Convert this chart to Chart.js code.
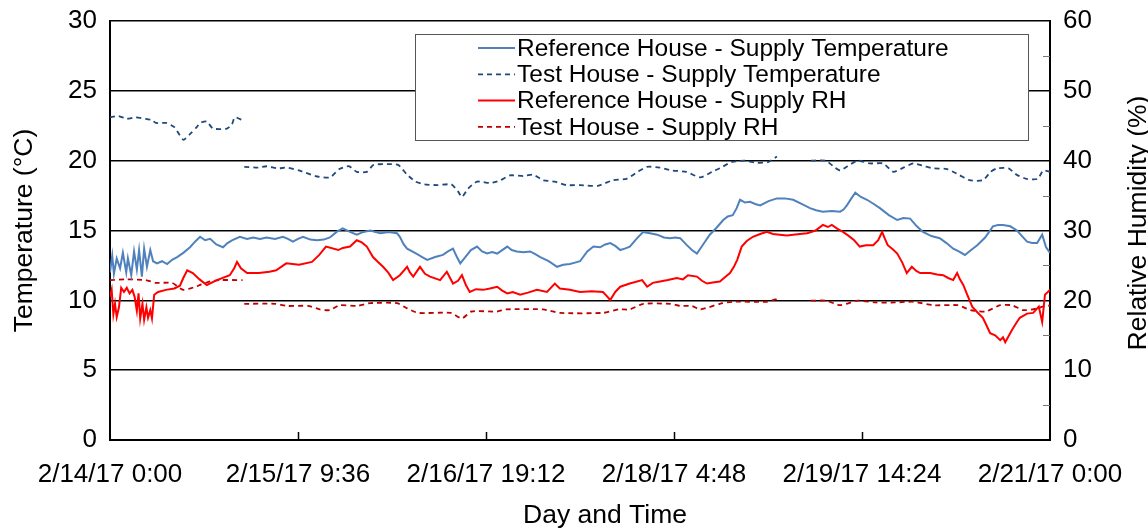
<!DOCTYPE html>
<html>
<head>
<meta charset="utf-8">
<script src="https://cdn.jsdelivr.net/npm/chart.js@4.4.0/dist/chart.umd.min.js"></script>
<style>
  html, body { margin: 0; padding: 0; background: #fff; }
  #wrap { width: 1148px; height: 531px; }
</style>
</head>
<body>
<div id="wrap"><canvas id="chart" width="1148" height="531"></canvas></div>
<script>
// Time is expressed in hours since 2/14/17 0:00.
const timeTickHours = [0, 33.6, 67.2, 100.8, 134.4, 168];
const timeTickLabels = ['2/14/17 0:00', '2/15/17 9:36', '2/16/17 19:12', '2/18/17 4:48', '2/19/17 14:24', '2/21/17 0:00'];
const rhMinorTicks = [5, 15, 25, 35, 45, 55];

const seriesLabels = [
  'Reference House - Supply Temperature',
  'Test House - Supply Temperature',
  'Reference House - Supply RH',
  'Test House - Supply RH'
];

// [hour, °C]
const refTemp = [[0,12.0],[0.4,13.2],[0.7,11.9],[1.2,13.0],[1.8,12.3],[2.3,13.4],[2.9,12.0],[3.2,13.0],[3.8,11.8],[4.3,13.5],[4.8,12.2],[5.2,13.6],[5.7,11.7],[6.1,13.7],[6.6,12.4],[7.2,13.6],[7.7,12.8],[8.4,12.65],[9.3,12.8],[10.2,12.6],[11.1,12.9],[12.0,13.1],[13.1,13.4],[14.3,13.8],[15.2,14.2],[16.1,14.55],[17.0,14.3],[17.9,14.4],[19.0,14.0],[20.2,13.8],[21.0,14.1],[21.8,14.3],[23.2,14.55],[24.5,14.4],[25.6,14.5],[26.8,14.4],[28.0,14.5],[29.5,14.4],[30.9,14.55],[31.8,14.4],[32.7,14.2],[33.6,14.4],[34.5,14.55],[35.8,14.35],[37.0,14.3],[38.2,14.35],[39.3,14.5],[40.5,14.9],[41.6,15.15],[42.9,14.9],[44.1,14.7],[45.3,14.9],[46.5,15.0],[48.3,14.8],[49.8,14.9],[51.3,14.8],[51.8,14.55],[52.5,14.0],[53.1,13.7],[54.0,13.5],[54.9,13.3],[55.8,13.1],[56.7,12.9],[58.1,13.1],[59.5,13.25],[60.4,13.5],[61.3,13.7],[62.0,13.1],[62.6,12.65],[63.5,13.1],[64.5,13.6],[65.6,13.85],[66.5,13.5],[67.4,13.35],[68.3,13.45],[69.2,13.35],[70.1,13.6],[71.0,13.85],[71.8,13.6],[72.7,13.5],[73.9,13.45],[75.1,13.5],[76.0,13.3],[76.9,13.1],[78.4,12.8],[79.9,12.4],[81.0,12.55],[82.2,12.6],[83.1,12.7],[84.0,12.8],[85.3,13.5],[86.4,13.85],[87.6,13.8],[88.5,14.0],[89.4,14.1],[90.3,13.9],[91.2,13.6],[92.0,13.7],[92.9,13.85],[94.1,14.4],[95.3,14.9],[96.5,14.8],[97.8,14.7],[99.0,14.5],[100.1,14.45],[101.0,14.5],[101.9,14.45],[102.5,14.2],[103.1,13.95],[104.0,13.6],[104.9,13.35],[106.0,14.0],[107.2,14.7],[108.4,15.2],[109.6,15.75],[110.4,16.0],[111.3,16.1],[112.0,16.6],[112.6,17.2],[113.5,17.0],[114.4,17.05],[115.3,16.9],[116.2,16.8],[117.7,17.1],[119.2,17.3],[120.6,17.3],[122.1,17.2],[123.6,16.9],[125.1,16.6],[126.2,16.45],[127.4,16.35],[129.0,16.4],[130.5,16.35],[131.1,16.5],[131.7,16.8],[132.5,17.3],[133.2,17.7],[134.2,17.4],[135.3,17.2],[136.5,16.9],[137.6,16.6],[139.2,16.1],[140.7,15.75],[141.8,15.9],[143.0,15.85],[144.2,15.3],[145.3,14.9],[146.8,14.6],[148.3,14.45],[149.5,14.1],[150.7,13.7],[151.7,13.5],[152.8,13.25],[153.9,13.6],[155.0,13.95],[156.4,14.5],[157.8,15.3],[158.7,15.4],[159.6,15.4],[160.9,15.3],[162.1,15.0],[163.0,14.6],[163.9,14.2],[164.8,14.1],[165.7,14.1],[166.6,14.7],[167.3,13.8],[168,13.4]];

// [hour, °C]; null marks a gap in the logger record
const testTemp = [[0,23.1],[1.5,23.2],[3.0,23.0],[4.5,23.1],[6.4,23.0],[7.5,22.9],[8.2,22.7],[10.0,22.7],[11.5,22.4],[13.1,21.5],[14.3,21.9],[15.5,22.4],[16.1,22.7],[17.3,22.8],[18.4,22.3],[20.9,22.3],[21.8,22.6],[22.3,23.1],[23.7,22.9],[23.85,null],[24.0,19.56],[26.5,19.5],[28.0,19.6],[30.0,19.45],[31.6,19.5],[33.8,19.3],[36.7,18.9],[39.3,18.8],[41.0,19.4],[42.7,19.6],[44.1,19.2],[45.9,19.2],[47.1,19.7],[49.5,19.75],[51.5,19.7],[53.1,19.0],[54.6,18.5],[56.2,18.3],[58.5,18.25],[61.0,18.3],[62.2,17.8],[62.9,17.4],[64.0,18.0],[65.6,18.5],[68.0,18.4],[69.8,18.6],[71.5,18.95],[73.9,18.9],[75.6,19.0],[77.4,18.6],[79.5,18.5],[81.6,18.25],[84.0,18.25],[87.2,18.2],[89.9,18.6],[92.3,18.7],[94.3,19.2],[96.0,19.56],[98.3,19.5],[100.5,19.3],[103.0,19.2],[105.5,18.8],[107.6,19.2],[109.2,19.5],[111.1,19.9],[113.5,20.0],[115.6,19.85],[117.6,19.9],[119.2,20.3],[122.0,null],[125.3,20.0],[127.9,20.0],[129.6,19.5],[130.5,19.3],[131.8,19.6],[133.6,20.0],[135.9,19.8],[138.2,19.8],[140.0,19.2],[141.8,19.5],[143.6,19.8],[145.6,19.6],[147.2,19.45],[149.6,19.4],[151.8,18.97],[153.6,18.6],[156.0,18.6],[157.4,19.2],[158.5,19.45],[160.6,19.45],[162.0,19.0],[163.8,18.7],[165.8,18.7],[166.8,19.3],[168,19.2]];

// [hour, %RH]
const refRH = [[0,20.5],[0.3,21.5],[0.6,18.0],[0.9,19.5],[1.2,17.6],[1.6,19.0],[2.0,21.8],[2.5,21.2],[3.0,21.8],[3.5,21.0],[4.0,21.5],[4.4,20.5],[4.8,18.5],[5.1,21.0],[5.4,17.4],[5.8,19.5],[6.1,17.2],[6.5,19.0],[6.8,17.5],[7.2,18.6],[7.5,17.4],[7.9,20.8],[8.6,21.2],[10.0,21.5],[11.5,21.7],[12.5,22.1],[13.1,23.2],[13.8,24.3],[14.8,23.9],[16.0,23.0],[17.3,22.2],[19.1,22.9],[21.4,23.6],[22.2,24.6],[22.7,25.5],[23.4,24.6],[24.5,23.9],[26.6,23.9],[28.5,24.1],[29.7,24.3],[31.5,25.3],[33.8,25.1],[36.1,25.5],[37.4,26.5],[38.6,27.7],[40.8,27.2],[41.6,27.5],[42.9,27.7],[44.1,28.6],[45.0,28.3],[45.9,27.7],[47.0,26.2],[47.9,25.5],[48.8,24.8],[49.7,24.0],[50.6,22.9],[51.8,23.6],[53.1,24.8],[53.6,24.0],[54.2,23.4],[55.4,24.8],[56.3,23.8],[57.2,23.4],[59.0,22.9],[60.2,24.1],[61.3,22.4],[62.2,22.8],[62.9,23.6],[63.6,22.2],[64.3,21.2],[65.4,21.6],[66.7,21.5],[67.9,21.7],[69.2,21.95],[70.1,21.4],[71.0,21.0],[72.0,21.2],[73.3,20.8],[74.7,21.1],[76.3,21.5],[78.1,21.2],[79.5,22.4],[80.4,21.7],[82.2,21.5],[84.0,21.2],[86.1,21.3],[88.1,21.2],[88.8,20.6],[89.4,20.05],[90.3,21.2],[91.2,21.95],[92.9,22.4],[95.1,22.9],[96.0,21.95],[97.0,22.5],[98.3,22.7],[99.7,22.9],[101.3,23.2],[102.4,23.0],[103.3,23.6],[104.9,23.4],[105.8,22.8],[106.7,22.4],[108.0,22.6],[109.0,22.7],[109.9,23.3],[110.8,23.9],[111.5,24.8],[112.1,25.8],[112.9,27.7],[113.8,28.5],[114.9,29.1],[116.2,29.5],[117.4,29.8],[118.5,29.5],[119.7,29.4],[121.0,29.3],[122.1,29.4],[123.3,29.5],[124.6,29.6],[126.1,30.0],[127.4,30.8],[128.3,30.5],[129.0,30.8],[130.1,30.2],[131.0,29.8],[131.9,29.3],[133.0,28.6],[134.0,27.7],[135.1,27.9],[136.4,27.9],[137.3,28.6],[138.0,29.8],[138.5,28.8],[139.0,27.9],[139.9,27.3],[140.7,26.7],[141.6,25.4],[142.4,23.9],[143.3,24.8],[144.1,24.2],[144.8,23.9],[146.6,23.9],[147.8,23.7],[148.9,23.6],[149.8,23.2],[150.7,22.9],[151.4,23.9],[151.9,23.0],[152.5,22.2],[153.2,20.8],[154.1,19.1],[155.0,18.3],[156.0,17.5],[156.6,16.5],[157.3,15.3],[158.2,15.0],[159.1,14.3],[159.6,14.7],[160.0,14.0],[161.2,15.75],[162.0,16.8],[162.6,17.5],[163.9,18.1],[165.0,18.2],[166.0,19.1],[166.6,16.9],[167.1,20.8],[168,21.5]];

// [hour, %RH]; null marks a gap in the logger record
const testRH = [[0,22.9],[3.0,23.0],[6.4,22.9],[8.2,22.5],[11.1,22.5],[13.1,21.5],[15.5,22.0],[16.1,22.2],[17.9,22.7],[19.7,22.9],[23.7,22.9],[23.85,null],[24.0,19.5],[29.5,19.5],[31.6,19.2],[35.4,19.2],[37.5,18.7],[39.3,18.6],[41.0,19.3],[44.1,19.2],[46.5,19.6],[51.3,19.6],[53.1,18.85],[55.1,18.2],[60.9,18.2],[62.9,17.4],[64.6,18.4],[69.2,18.4],[70.7,18.7],[77.4,18.7],[80.4,18.2],[88.1,18.2],[90.9,18.7],[92.9,18.7],[95.3,19.5],[100.1,19.5],[101.9,19.2],[104.0,19.2],[105.5,18.7],[109.0,19.5],[111.3,19.8],[117.4,19.8],[119.2,20.2],[122.0,null],[125.3,19.95],[128.0,19.95],[130.5,19.3],[133.6,19.95],[136.8,19.7],[140.4,19.7],[143.6,19.8],[147.2,19.3],[151.5,19.3],[153.8,18.6],[156.5,18.4],[159.1,19.3],[161.2,19.3],[163.2,18.6],[165.5,18.8],[167.5,19.3],[168,19.2]];

const FONT = '"Liberation Sans", Arial, Helvetica, sans-serif';
const toPoints = rows => rows.map(([h, v]) => ({ x: h, y: v }));

// Fixed-size vertical axes so the plot box sits where the layout wants it
const fixVertical = width => s => {
  s.width = width;
  s.paddingTop = 0;
  s.paddingBottom = 0;
};

// Inner tick marks, boxed legend and the secondary axis titles
const decorations = {
  id: 'decorations',
  afterDatasetsDraw(chart) {
    const { ctx, chartArea, scales } = chart;
    ctx.save();

    // tick marks pointing into the plot along the time axis
    ctx.strokeStyle = '#000';
    ctx.lineWidth = 1.5;
    timeTickHours.slice(1, -1).forEach(h => {
      const x = Math.round(scales.x.getPixelForValue(h)) + 0.5;
      ctx.beginPath();
      ctx.moveTo(x, chartArea.bottom);
      ctx.lineTo(x, chartArea.bottom - 8);
      ctx.stroke();
    });

    // minor ticks on the humidity axis
    ctx.strokeStyle = '#777';
    ctx.lineWidth = 1;
    rhMinorTicks.forEach(v => {
      const y = Math.round(scales.yRH.getPixelForValue(v)) + 0.5;
      ctx.beginPath();
      ctx.moveTo(chartArea.right, y);
      ctx.lineTo(chartArea.right - 7, y);
      ctx.stroke();
    });

    // legend box
    const lx = 415, ly = 34, lw = 613, lh = 106;
    ctx.fillStyle = '#fff';
    ctx.fillRect(lx, ly, lw, lh);
    ctx.strokeStyle = '#555';
    ctx.lineWidth = 1;
    ctx.strokeRect(lx + 0.5, ly + 0.5, lw, lh);
    ctx.font = '24.5px ' + FONT;
    ctx.textAlign = 'left';
    ctx.textBaseline = 'middle';
    chart.data.datasets.forEach((ds, i) => {
      const y = 48 + i * 26.3;
      ctx.strokeStyle = ds.borderColor;
      ctx.lineWidth = ds.borderWidth;
      ctx.setLineDash(ds.borderDash || []);
      ctx.beginPath();
      ctx.moveTo(478, y);
      ctx.lineTo(515, y);
      ctx.stroke();
      ctx.setLineDash([]);
      ctx.fillStyle = '#000';
      ctx.fillText(ds.label, 517, y + 1);
    });

    // axis titles
    ctx.fillStyle = '#000';
    ctx.font = '26.5px ' + FONT;
    ctx.textAlign = 'center';
    ctx.textBaseline = 'middle';
    ctx.fillText('Day and Time', 605, 516);

    ctx.translate(1146, 223);
    ctx.rotate(-Math.PI / 2);
    ctx.textBaseline = 'alphabetic';
    ctx.fillText('Relative Humidity (%)', 0, 0);
    ctx.restore();
  }
};

new Chart(document.getElementById('chart'), {
  type: 'line',
  data: {
    datasets: [
      { label: seriesLabels[0], data: toPoints(refTemp), yAxisID: 'yT', borderColor: '#4F81BD', borderWidth: 2, order: 2 },
      { label: seriesLabels[1], data: toPoints(testTemp), yAxisID: 'yT', borderColor: '#1F497D', borderWidth: 1.8, borderDash: [5, 4], tension: 0.2, order: 3 },
      { label: seriesLabels[2], data: toPoints(refRH), yAxisID: 'yRH', borderColor: '#FF0000', borderWidth: 2, order: 1 },
      { label: seriesLabels[3], data: toPoints(testRH), yAxisID: 'yRH', borderColor: '#C00000', borderWidth: 1.8, borderDash: [5, 4], tension: 0.2, order: 4 }
    ]
  },
  options: {
    responsive: false,
    animation: false,
    spanGaps: false,
    layout: { padding: { top: 21, left: 0, right: 0, bottom: 0 } },
    elements: { point: { radius: 0, hoverRadius: 0 }, line: { tension: 0, fill: false } },
    plugins: { legend: { display: false }, tooltip: { enabled: false } },
    scales: {
      x: {
        type: 'linear',
        position: 'bottom',
        min: 0,
        max: 168,
        afterBuildTicks: s => { s.ticks = timeTickHours.map(v => ({ value: v })); },
        afterFit: s => { s.height = 91; },
        grid: { display: false },
        border: { display: true, color: '#000', width: 2 },
        ticks: {
          autoSkip: false,
          maxRotation: 0,
          padding: 11,
          color: '#000',
          font: { family: FONT, size: 26 },
          callback: (v, i) => timeTickLabels[i]
        }
      },
      yT: {
        type: 'linear',
        position: 'left',
        min: 0,
        max: 30,
        afterFit: fixVertical(110),
        grid: { color: '#000', lineWidth: 1.6, drawTicks: false },
        border: { display: true, color: '#000', width: 2 },
        ticks: { stepSize: 5, padding: 13, color: '#000', font: { family: FONT, size: 26 } },
        title: { display: true, text: 'Temperature (°C)', color: '#000', font: { family: FONT, size: 26.5 }, padding: { top: 9, bottom: 0 } }
      },
      yRH: {
        type: 'linear',
        position: 'right',
        min: 0,
        max: 60,
        afterFit: fixVertical(98),
        grid: { drawOnChartArea: false, drawTicks: false },
        border: { display: true, color: '#000', width: 2 },
        ticks: { stepSize: 10, padding: 13, color: '#000', font: { family: FONT, size: 26 } }
      }
    }
  },
  plugins: [decorations]
});
</script>
</body>
</html>
